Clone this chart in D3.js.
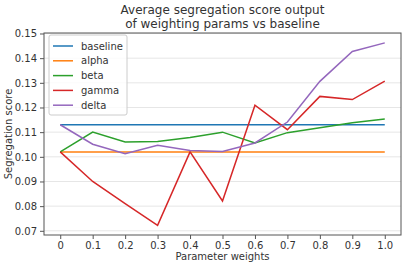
<!DOCTYPE html>
<html lang="en">
<head>
<meta charset="UTF-8">
<title>Average segregation score</title>
<script src="https://d3js.org/d3.v7.min.js"></script>
<style>
  body { margin: 0; background: #fff; }
  text { font-family: "DejaVu Sans", sans-serif; fill: #333; }
</style>
</head>
<body>
<div id="chart"></div>
<script>
// x values (parameter weights)
const weights = [0, 0.1, 0.2, 0.3, 0.4, 0.5, 0.6, 0.7, 0.8, 0.9, 1.0];
const xTickLabels = ["0", "0.1", "0.2", "0.3", "0.4", "0.5", "0.6", "0.7", "0.8", "0.9", "1.0"];
const yTicks = [0.07, 0.08, 0.09, 0.10, 0.11, 0.12, 0.13, 0.14, 0.15];

// series values
const baseline = [0.113, 0.113, 0.113, 0.113, 0.113, 0.113, 0.113, 0.113, 0.113, 0.113, 0.113];
const alpha    = [0.102, 0.102, 0.102, 0.102, 0.102, 0.102, 0.102, 0.102, 0.102, 0.102, 0.102];
const beta     = [0.102, 0.110, 0.106, 0.1062, 0.1078, 0.110, 0.1056, 0.1098, 0.1118, 0.1138, 0.1153];
const gamma    = [0.102, 0.090, 0.081, 0.0722, 0.102, 0.0821, 0.1209, 0.111, 0.1245, 0.1232, 0.1307];
const delta    = [0.113, 0.1051, 0.1013, 0.1047, 0.1026, 0.1022, 0.1056, 0.1141, 0.1306, 0.1427, 0.1462];

const seriesNames = ["baseline", "alpha", "beta", "gamma", "delta"];
const seriesValues = [baseline, alpha, beta, gamma, delta];
const colors = ["#1f77b4", "#ff7f0e", "#2ca02c", "#d62728", "#9467bd"];

const W = 405, H = 264;
const margin = {top: 33, right: 4, bottom: 29, left: 44};
const width = W - margin.left - margin.right,
      height = H - margin.top - margin.bottom;

const svg = d3.select("#chart").append("svg")
    .attr("width", W).attr("height", H);

const g = svg.append("g")
    .attr("transform", `translate(${margin.left},${margin.top})`);

const x = d3.scaleLinear().domain([-0.05, 1.05]).range([0, width]);
const y = d3.scaleLinear().domain([0.0683, 0.1502]).range([height, 0]);

// horizontal grid
g.append("g")
  .selectAll("line")
  .data(yTicks)
  .join("line")
    .attr("x1", 0).attr("x2", width)
    .attr("y1", d => y(d)).attr("y2", d => y(d))
    .attr("stroke", "#e6e6e6").attr("stroke-width", 1);

// lines
const line = d3.line()
    .x((d, i) => x(weights[i]))
    .y(d => y(d));

g.append("g")
  .selectAll("path")
  .data(seriesValues)
  .join("path")
    .attr("d", d => line(d))
    .attr("fill", "none")
    .attr("stroke", (d, i) => colors[i])
    .attr("stroke-width", 1.5);

// axes
const xAxis = g.append("g")
    .attr("transform", `translate(0,${height})`)
    .call(d3.axisBottom(x).tickValues(weights).tickFormat((d, i) => xTickLabels[i]).tickSize(4).tickPadding(3));
const yAxis = g.append("g")
    .call(d3.axisLeft(y).tickValues(yTicks).tickFormat(d3.format(".2f")).tickSize(4).tickPadding(3));

[xAxis, yAxis].forEach(a => {
  a.select(".domain").remove();
  a.selectAll(".tick line").attr("stroke", "#555");
  a.selectAll(".tick text").attr("font-size", 10).style("fill", "#333");
});

// frame
g.append("rect")
    .attr("width", width).attr("height", height)
    .attr("fill", "none").attr("stroke", "#555").attr("stroke-width", 1);

// title
const title = svg.append("text")
    .attr("x", margin.left + width / 2)
    .attr("text-anchor", "middle")
    .attr("font-size", 12);
title.append("tspan").attr("x", margin.left + width / 2).attr("y", 14).text("Average segregation score output");
title.append("tspan").attr("x", margin.left + width / 2).attr("y", 28).text("of weighting params vs baseline");

// axis labels
svg.append("text")
    .attr("x", margin.left + width / 2).attr("y", 260)
    .attr("text-anchor", "middle").attr("font-size", 10)
    .text("Parameter weights");
svg.append("text")
    .attr("transform", `translate(12,${margin.top + height / 2}) rotate(-90)`)
    .attr("text-anchor", "middle").attr("font-size", 10)
    .text("Segregation score");

// legend
const legend = g.append("g").attr("transform", "translate(5,2)");
legend.append("rect")
    .attr("width", 78).attr("height", 80).attr("rx", 2)
    .attr("fill", "#fff").attr("fill-opacity", 0.8)
    .attr("stroke", "#ccc");
const items = legend.selectAll("g.item")
  .data(seriesNames)
  .join("g")
    .attr("class", "item")
    .attr("transform", (d, i) => `translate(0,${11 + i * 14.8})`);
items.append("line")
    .attr("x1", 4).attr("x2", 24)
    .attr("stroke", (d, i) => colors[i]).attr("stroke-width", 1.5);
items.append("text")
    .attr("x", 32).attr("dy", "0.35em").attr("font-size", 10)
    .text(d => d);
</script>
</body>
</html>
